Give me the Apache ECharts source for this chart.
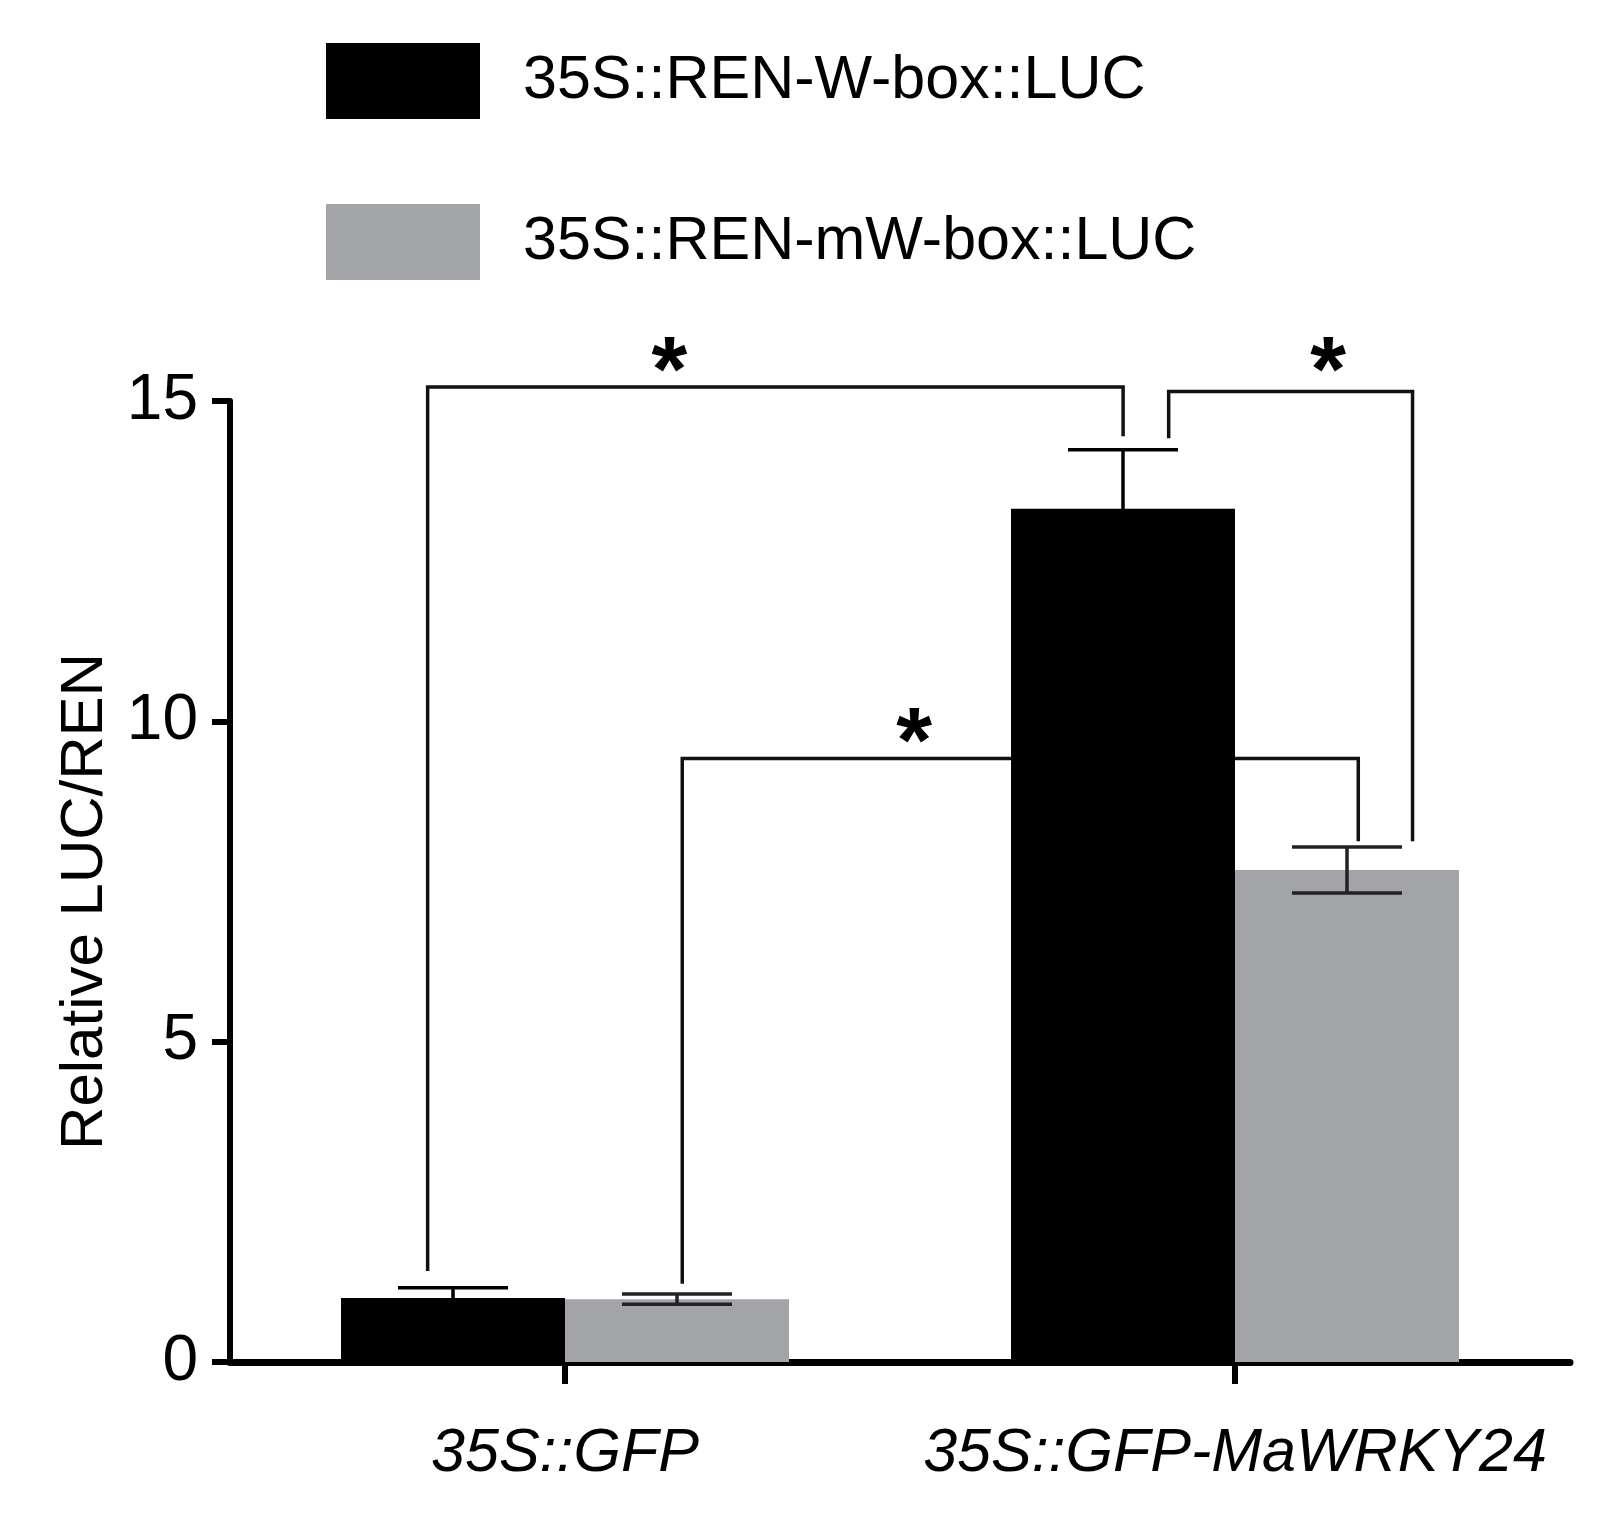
<!DOCTYPE html>
<html>
<head>
<meta charset="utf-8">
<script src="https://cdn.jsdelivr.net/npm/echarts@6/dist/echarts.min.js"></script>
<style>
html,body{margin:0;padding:0;background:#fff;}
#main{width:1608px;height:1525px;}
</style>
</head>
<body>
<div id="main"></div>
<script>
// ---- data ----
const categories = ['35S::GFP', '35S::GFP-MaWRKY24'];
const seriesNames = ['35S::REN-W-box::LUC', '35S::REN-mW-box::LUC'];
const wBoxMean = [1.0, 13.32];
const wBoxErr = [0.16, 0.92];
const mwBoxMean = [0.98, 7.68];
const mwBoxErr = [0.08, 0.36];
const yMin = 0, yMax = 15, yStep = 5;
// significance brackets: [cat, offset, bottom] left leg, [cat, offset, bottom] right leg, top value
const bracketLeft = [[0, -0.205, 1.42], [0, 0.175, 1.22], [1, -0.099, 14.42]];
const bracketRight = [[1, -0.167, 14.45], [1, 0.184, 8.13], [1, 0.265, 8.13]];
const bracketTop = [15.22, 9.42, 15.15];
const starPos = [[0, 0.156, 15.4], [0, 0.521, 9.6], [1, 0.139, 15.4]];
const starLabel = ['*', '*', '*'];

// ---- styles ----
const FONT = 'Liberation Sans, Arial, sans-serif';
const barWidth = 224;
const colors = ['#000000', '#a3a4a8'];

const chart = echarts.init(document.getElementById('main'), null, {renderer: 'canvas'});

function errorRender(offsetSign, color) {
  return function (params, api) {
    const idx = api.value(0);
    const mean = api.value(1);
    const err = api.value(2);
    const c = api.coord([idx, mean]);
    const x = c[0] + offsetSign * barWidth / 2;
    const yHi = api.coord([idx, mean + err])[1];
    const yLo = api.coord([idx, mean - err])[1];
    const cap = 55;
    const style = {stroke: color, lineWidth: 3.5};
    return {
      type: 'group',
      children: [
        {type: 'line', shape: {x1: x, y1: yHi, x2: x, y2: yLo}, style},
        {type: 'line', shape: {x1: x - cap, y1: yHi, x2: x + cap, y2: yHi}, style},
        {type: 'line', shape: {x1: x - cap, y1: yLo, x2: x + cap, y2: yLo}, style}
      ]
    };
  };
}

function bracketRender(params, api) {
  const i = params.dataIndex;
  const bw = api.size([1, 0])[0];
  const L = bracketLeft[i], R = bracketRight[i], top = bracketTop[i];
  const xl = api.coord([L[0], 0])[0] + L[1] * bw;
  const xr = api.coord([R[0], 0])[0] + R[1] * bw;
  const yl = api.coord([L[0], L[2]])[1];
  const yr = api.coord([R[0], R[2]])[1];
  const yt = api.coord([L[0], top])[1];
  const S = starPos[i];
  const sx = api.coord([S[0], 0])[0] + S[1] * bw;
  const sy = api.coord([S[0], S[2]])[1];
  return {
    type: 'group',
    children: [
      {type: 'polyline', shape: {points: [[xl, yl], [xl, yt], [xr, yt], [xr, yr]]},
       style: {stroke: '#111', lineWidth: 3.5, fill: null}},
      {type: 'text', x: sx, y: sy,
       style: {text: starLabel[i], fontSize: 92, fontWeight: 'bold', fontFamily: FONT,
               fill: '#000', align: 'center', verticalAlign: 'middle'}}
    ]
  };
}

const option = {
  backgroundColor: '#ffffff',
  animation: false,
  legend: {
    orient: 'vertical',
    left: 321,
    top: 38,
    itemWidth: 154,
    itemHeight: 76,
    itemGap: 85,
    icon: 'rect',
    data: seriesNames,
    textStyle: {fontSize: 61, fontFamily: FONT, color: '#000', padding: [0, 0, 0, 38]}
  },
  grid: {left: 230, right: 38, top: 401, bottom: 163, containLabel: false},
  xAxis: {
    type: 'category',
    data: categories,
    axisLine: {show: true, lineStyle: {color: '#000', width: 7}},
    axisTick: {show: true, interval: 0, alignWithLabel: true, length: 22, lineStyle: {color: '#000', width: 6}},
    axisLabel: {interval: 0, hideOverlap: false, fontSize: 61, fontStyle: 'italic', fontFamily: FONT, color: '#000', margin: 62}
  },
  yAxis: {
    type: 'value',
    min: yMin, max: yMax, interval: yStep,
    name: 'Relative LUC/REN',
    nameLocation: 'middle',
    nameGap: 108,
    nameTextStyle: {fontSize: 60, fontFamily: FONT, color: '#000', padding: [0, 40, 0, 0]},
    splitLine: {show: false},
    axisLine: {show: true, lineStyle: {color: '#000', width: 6}},
    axisTick: {show: true, length: 18, lineStyle: {color: '#000', width: 6}},
    axisLabel: {fontSize: 64, fontFamily: FONT, color: '#000', margin: 32}
  },
  series: [
    {
      name: seriesNames[0], type: 'bar', data: wBoxMean, barWidth: barWidth, barGap: '0%',
      itemStyle: {color: colors[0]}, z: 3
    },
    {
      name: seriesNames[1], type: 'bar', data: mwBoxMean, barWidth: barWidth, barGap: '0%',
      itemStyle: {color: colors[1]}, z: 3
    },
    {
      type: 'custom', name: 'err0', renderItem: errorRender(-1, '#000'),
      data: wBoxMean.map((v, i) => [i, v, wBoxErr[i]]), encode: {x: 0, y: 1}, z: 4, silent: true
    },
    {
      type: 'custom', name: 'err1', renderItem: errorRender(1, '#222'),
      data: mwBoxMean.map((v, i) => [i, v, mwBoxErr[i]]), encode: {x: 0, y: 1}, z: 4, silent: true
    },
    {
      type: 'custom', name: 'brackets', renderItem: bracketRender,
      data: bracketTop.map((t, i) => [bracketLeft[i][0], t]), encode: {x: 0, y: 1}, z: 2, silent: true
    }
  ]
};
chart.setOption(option);
</script>
</body>
</html>
